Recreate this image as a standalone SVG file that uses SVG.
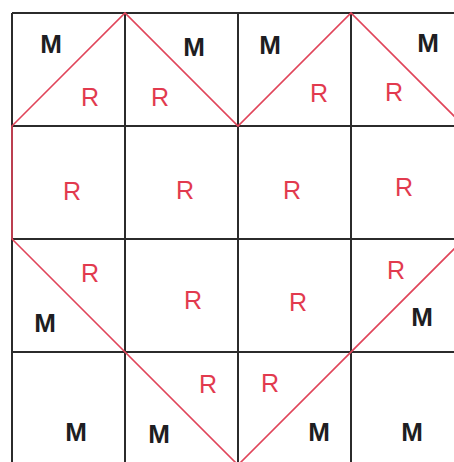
<svg xmlns="http://www.w3.org/2000/svg" width="454" height="462" viewBox="0 0 454 462">
<style>
.grid{stroke:#2b2b2b;stroke-width:2;fill:none}
.heart{stroke:#e0455a;stroke-width:1.6;fill:none;stroke-linejoin:miter}
text{font-family:"Liberation Sans",Arial,sans-serif;font-size:25px;text-anchor:middle}
.m{fill:#1e1e22;font-weight:bold;font-size:26px}
.r{fill:#e23a4e}
</style>
<rect width="454" height="462" fill="#ffffff"/>
<g id="grid" class="grid">
<path d="M12 13H466M12 126H466M12 239H466M12 352H466M12 465H466"/>
<path d="M12 13V465M125 13V465M238 13V465M351 13V465M464 13V465"/>
</g>
<g id="heart" class="heart">
<path d="M12 126L125 13L238 126L351 13L464 126V239L238 465L12 239Z"/>
</g>
<g id="labels">
<text class="m" x="51" y="53">M</text>
<text class="r" x="90" y="106">R</text>
<text class="r" x="160" y="106">R</text>
<text class="m" x="194" y="56">M</text>
<text class="m" x="270" y="54">M</text>
<text class="r" x="319" y="102">R</text>
<text class="r" x="394" y="101">R</text>
<text class="m" x="428" y="52">M</text>
<text class="r" x="72" y="200">R</text>
<text class="r" x="185" y="199">R</text>
<text class="r" x="292" y="199">R</text>
<text class="r" x="404" y="196">R</text>
<text class="r" x="90" y="282">R</text>
<text class="m" x="45" y="332">M</text>
<text class="r" x="193" y="309">R</text>
<text class="r" x="298" y="311">R</text>
<text class="r" x="396" y="279">R</text>
<text class="m" x="422" y="326">M</text>
<text class="m" x="76" y="441">M</text>
<text class="m" x="159" y="443">M</text>
<text class="r" x="208" y="393">R</text>
<text class="r" x="270" y="392">R</text>
<text class="m" x="319" y="441">M</text>
<text class="m" x="412" y="441">M</text>
</g>
</svg>
